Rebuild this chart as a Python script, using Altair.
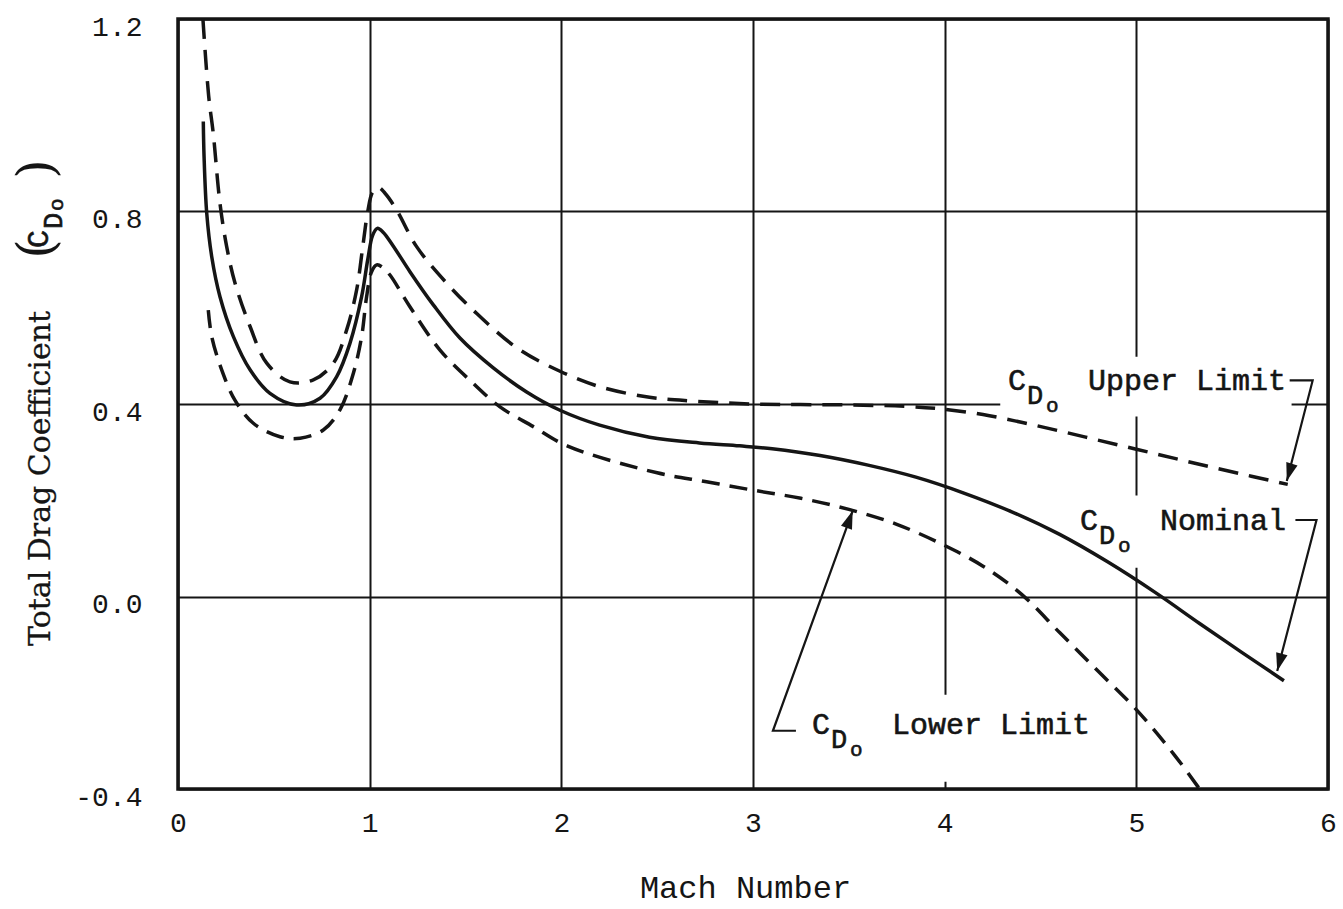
import altair as alt
import pandas as pd

# ---- curve readings: Mach number vs. total drag coefficient C_Do ----
nominal_mach = [0.132, 0.136, 0.150, 0.176, 0.219, 0.289, 0.376, 0.480, 0.619, 0.741,
                0.828, 0.897, 0.958, 0.99, 1.015, 1.04, 1.07, 1.12, 1.21, 1.332,
                1.471, 1.645, 1.819, 1.993, 2.20, 2.46, 2.72, 2.93, 3.1, 3.35,
                3.6, 3.85, 4.1, 4.35, 4.6, 4.85, 5.1, 5.33, 5.55, 5.77]
nominal_cd = [0.987, 0.914, 0.796, 0.706, 0.623, 0.540, 0.471, 0.422, 0.398, 0.412,
              0.457, 0.526, 0.623, 0.700, 0.750, 0.765, 0.757, 0.730, 0.675, 0.606,
              0.537, 0.475, 0.425, 0.387, 0.356, 0.331, 0.319, 0.313, 0.307, 0.293,
              0.273, 0.248, 0.215, 0.176, 0.129, 0.072, 0.008, -0.056, -0.116, -0.175]

upper_mach = [0.13, 0.16, 0.184, 0.219, 0.254, 0.297, 0.376, 0.463, 0.584, 0.706,
              0.811, 0.880, 0.932, 0.965, 0.99, 1.015, 1.045, 1.08, 1.141, 1.245,
              1.402, 1.54, 1.767, 1.993, 2.20, 2.46, 2.69, 3.0, 3.5, 3.8,
              4.0, 4.2, 4.4, 4.6, 4.8, 5.0, 5.2, 5.4, 5.6, 5.79]
upper_cd = [1.2, 1.04, 0.962, 0.817, 0.727, 0.652, 0.561, 0.485, 0.446, 0.450,
            0.485, 0.554, 0.637, 0.730, 0.800, 0.840, 0.850, 0.838, 0.803, 0.727,
            0.651, 0.595, 0.517, 0.468, 0.436, 0.414, 0.406, 0.400, 0.398, 0.395,
            0.389, 0.378, 0.362, 0.344, 0.325, 0.306, 0.287, 0.268, 0.250, 0.233]

lower_mach = [0.158, 0.176, 0.228, 0.297, 0.393, 0.532, 0.637, 0.758, 0.845, 0.915,
              0.958, 0.984, 1.01, 1.037, 1.07, 1.106, 1.21, 1.367, 1.54, 1.68,
              1.854, 2.03, 2.5, 2.75, 3.0, 3.25, 3.5, 3.75, 4.0, 4.2,
              4.4, 4.6, 4.8, 5.0, 5.2, 5.33]
lower_cd = [0.595, 0.540, 0.471, 0.408, 0.360, 0.332, 0.329, 0.346, 0.388, 0.464,
            0.540, 0.623, 0.675, 0.689, 0.683, 0.668, 0.602, 0.512, 0.443, 0.394,
            0.353, 0.313, 0.257, 0.239, 0.221, 0.204, 0.181, 0.150, 0.106, 0.063,
            0.005, -0.075, -0.155, -0.235, -0.330, -0.400]

x_ticks = [0, 1, 2, 3, 4, 5, 6]
y_ticks = [-0.4, 0.0, 0.4, 0.8, 1.2]

# curve labels: anchor of the leading "C", plus the words that follow "C_Do"
label_names = ["Upper Limit", "Nominal", "Lower Limit"]
label_mach = [4.33, 4.706, 3.308]
label_cd = [0.430, 0.138, -0.286]

# leader lines from each label to its curve
leader_id = ["u", "u", "u", "n", "n", "n", "l", "l", "l"]
leader_seq = [0, 1, 2, 0, 1, 2, 0, 1, 2]
leader_mach = [5.80, 5.92, 5.785, 5.83, 5.94, 5.735, 3.224, 3.104, 3.52]
leader_cd = [0.449, 0.449, 0.240, 0.159, 0.159, -0.155, -0.279, -0.279, 0.178]

# arrow tips and their screen direction (degrees clockwise from up)
arrow_mach = [5.785, 5.735, 3.52]
arrow_cd = [0.240, -0.155, 0.178]
arrow_angle = [196.5, 194.9, 20.0]

# white patches that break the grid behind the labels
gap_mach = [4.29, 4.68, 3.09]
gap_mach2 = [5.81, 5.83, 4.78]
gap_cd = [0.374, 0.06, -0.385]
gap_cd2 = [0.498, 0.21, -0.204]

W, H = 1150, 770
MONO = "Liberation Mono"
SERIF = "DejaVu Serif"
INK = "#151515"
TEXT_EDGE = 0.6  # thin outline that gives the typewriter glyphs more weight

x_scale = alt.Scale(domain=[0, 6], nice=False, zero=False)
y_scale = alt.Scale(domain=[-0.4, 1.2], nice=False, zero=False)

x_axis = alt.Axis(
    values=x_ticks, grid=True, gridColor=INK, gridWidth=2, gridOpacity=1,
    domain=False, ticks=False, labelFlush=False,
    labelFont=MONO, labelFontSize=28, labelColor=INK,
    labelPadding=20, labelBaseline="top",
    title="Mach Number", titleFont=MONO, titleFontSize=32, titleFontWeight="normal",
    titleColor=INK, titleX=567, titleY=108, titleAlign="center",
    titleBaseline="alphabetic",
)
y_axis = alt.Axis(
    values=y_ticks, grid=True, gridColor=INK, gridWidth=2, gridOpacity=1,
    domain=False, ticks=False, title=None,
    labelExpr="datum.value < 0 ? '-' + format(-datum.value, '.1f') : format(datum.value, '.1f')",
    labelFont=MONO, labelFontSize=28, labelColor=INK,
    labelPadding=36, labelOffset=8, labelBaseline="middle",
)

X = alt.X("mach:Q", scale=x_scale, axis=x_axis)
Y = alt.Y("cd:Q", scale=y_scale, axis=y_axis)


def curve_frame(xs, ys):
    return pd.DataFrame({"mach": xs, "cd": ys, "i": list(range(len(xs)))})


gaps = alt.Chart(pd.DataFrame({
    "mach": gap_mach, "mach2": gap_mach2, "cd": gap_cd, "cd2": gap_cd2,
})).mark_rect(color="white").encode(x=X, x2="mach2:Q", y=Y, y2="cd2:Q")

nominal = alt.Chart(curve_frame(nominal_mach, nominal_cd)).mark_line(
    color=INK, strokeWidth=3.5, interpolate="catmull-rom"
).encode(x=X, y=Y, order="i:Q")

upper = alt.Chart(curve_frame(upper_mach, upper_cd)).mark_line(
    color=INK, strokeWidth=3.5, interpolate="catmull-rom", strokeDash=[20, 11]
).encode(x=X, y=Y, order="i:Q")

lower = alt.Chart(curve_frame(lower_mach, lower_cd)).mark_line(
    color=INK, strokeWidth=3.5, interpolate="catmull-rom", strokeDash=[18, 10]
).encode(x=X, y=Y, order="i:Q")

leaders = alt.Chart(pd.DataFrame({
    "lead": leader_id, "i": leader_seq, "mach": leader_mach, "cd": leader_cd,
})).mark_line(color=INK, strokeWidth=2.2).encode(
    x=X, y=Y, detail="lead:N", order="i:Q"
)

arrows = alt.Chart(pd.DataFrame({
    "mach": arrow_mach, "cd": arrow_cd, "ang": arrow_angle,
})).mark_point(
    shape="M0,0L0.65,2L-0.65,2Z", filled=True, size=324, color=INK, opacity=1,
    strokeWidth=0,
).encode(x=X, y=Y, angle=alt.Angle("ang:Q", scale=None))

labels_df = pd.DataFrame({"mach": label_mach, "cd": label_cd, "name": label_names})
base_lbl = alt.Chart(labels_df)
txt = dict(align="left", baseline="alphabetic", font=MONO, color=INK,
           stroke=INK, strokeWidth=TEXT_EDGE)
lbl_c = base_lbl.mark_text(text="C", fontSize=30, **txt).encode(x=X, y=Y)
lbl_d = base_lbl.mark_text(text="D", fontSize=27, dx=19, dy=14, **txt).encode(x=X, y=Y)
lbl_o = base_lbl.mark_text(text="o", fontSize=21, dx=38, dy=22, **txt).encode(x=X, y=Y)
lbl_name = base_lbl.mark_text(fontSize=30, dx=80, **txt).encode(x=X, y=Y, text="name:N")

# vertical axis title "Total Drag Coefficient (C_Do)", placed in pixels left of the plot
PX = alt.X("px:Q", scale=None, axis=None)
PY = alt.Y("py:Q", scale=None, axis=None)
title_main = alt.Chart(pd.DataFrame({
    "px": [-128], "py": [627], "t": ["Total Drag Coefficient"],
})).mark_text(
    angle=270, align="left", baseline="alphabetic", font=SERIF, fontSize=30, color=INK,
    stroke=INK, strokeWidth=0.3,
).encode(x=PX, y=PY, text="t:N")
title_paren = alt.Chart(pd.DataFrame({
    "px": [-140, -140], "py": [230, 150], "t": ["(", ")"],
})).mark_text(
    angle=270, align="center", baseline="middle", font=SERIF, fontSize=50, color=INK
).encode(x=PX, y=PY, text="t:N")
title_sym = alt.Chart(pd.DataFrame({
    "px": [-130, -116, -115], "py": [229, 210, 192], "t": ["C", "D", "o"],
    "fs": [30, 27, 21],
})).mark_text(
    angle=270, align="left", baseline="alphabetic", font=MONO, color=INK,
    stroke=INK, strokeWidth=TEXT_EDGE,
).encode(x=PX, y=PY, text="t:N", size=alt.Size("fs:Q", scale=None, legend=None))

chart = alt.layer(
    gaps, upper, nominal, lower, leaders, arrows,
    lbl_c, lbl_d, lbl_o, lbl_name,
    title_main, title_paren, title_sym,
).properties(
    width=W, height=H,
    padding={"left": 178, "top": 19, "right": 15, "bottom": 120},
    autosize=alt.AutoSizeParams(type="none"),
    background="white",
).configure_view(
    stroke=INK, strokeWidth=3.5
)

chart.save("out.html", embed_options={"renderer": "svg", "actions": False})
